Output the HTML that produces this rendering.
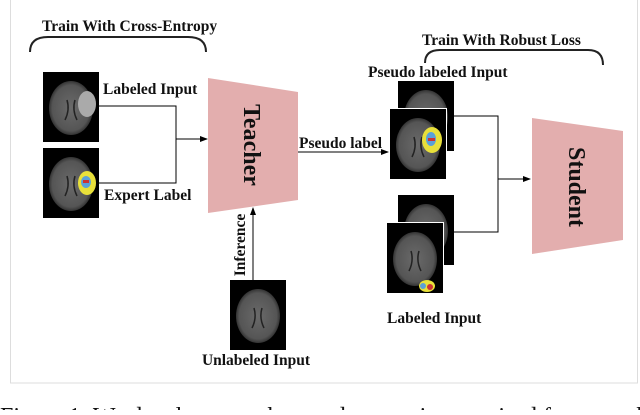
<!DOCTYPE html>
<html><head><meta charset="utf-8"><style>
body{margin:0;background:#fff;width:640px;height:410px;overflow:hidden}
svg text{font-family:"Liberation Serif",serif;font-weight:bold;fill:#111}
</style></head><body>
<svg width="640" height="410" viewBox="0 0 640 410" xmlns="http://www.w3.org/2000/svg">
<defs>
<radialGradient id="br" cx="50%" cy="50%" r="50%"><stop offset="0" stop-color="#6a6a6a"/><stop offset="0.85" stop-color="#555"/><stop offset="1" stop-color="#333"/></radialGradient>
<marker id="ar" markerWidth="8" markerHeight="8" refX="7" refY="4" orient="auto" markerUnits="userSpaceOnUse"><path d="M0,1 L8,4 L0,7 Z" fill="#000"/></marker>
<g id="brain"><rect width="56" height="70" fill="#000"/><ellipse cx="28" cy="36" rx="22" ry="27" fill="url(#br)"/><path d="M24 28 Q27 38 22 48 M32 28 Q29 38 34 48" stroke="#222" stroke-width="1.5" fill="none"/></g>
</defs>
<rect x="10.5" y="-2" width="627" height="385" fill="none" stroke="#ddd"/>
<path d="M30 52 Q30 37 48 37 L188 37 Q206 37 206 52" fill="none" stroke="#222" stroke-width="2"/>
<text x="42" y="31" font-size="15.5">Train With Cross-Entropy</text>
<use href="#brain" x="43" y="72"/>
<ellipse cx="87" cy="104" rx="9" ry="13" fill="#aaa"/>
<use href="#brain" x="43" y="148"/>
<ellipse cx="87" cy="183" rx="9" ry="12" fill="#e8e03a"/><ellipse cx="86" cy="182" rx="5" ry="6" fill="#5aa0d8"/><rect x="83" y="180" width="6" height="3" fill="#c33"/>
<text x="103" y="94" font-size="15.5">Labeled Input</text>
<text x="104" y="200" font-size="15.5">Expert Label</text>
<path d="M99 106 H176 V183 H99" fill="none" stroke="#000" stroke-width="1"/>
<line x1="176" y1="139" x2="207" y2="139" stroke="#000" marker-end="url(#ar)"/>
<polygon points="208,78 298,92 298,200 208,213" fill="#e3aeae"/>
<text transform="translate(244,145) rotate(90)" font-size="24" text-anchor="middle">Teacher</text>
<line x1="298" y1="152" x2="388" y2="152" stroke="#000" marker-end="url(#ar)"/>
<text x="299" y="148" font-size="15.5">Pseudo label</text>
<line x1="253" y1="280" x2="253" y2="208" stroke="#000" marker-end="url(#ar)"/>
<text transform="translate(245,245) rotate(-90)" font-size="15.5" text-anchor="middle">Inference</text>
<use href="#brain" x="230" y="280"/>
<text x="256" y="365" font-size="15.5" text-anchor="middle">Unlabeled Input</text>
<path d="M425 63 Q425 50 440 50 L588 50 Q603 50 603 65" fill="none" stroke="#222" stroke-width="2"/>
<text x="422" y="45" font-size="15.5">Train With Robust Loss</text>
<text x="368" y="77" font-size="15.5">Pseudo labeled Input</text>
<use href="#brain" x="398" y="81"/>
<rect x="389.5" y="108.5" width="57" height="72" fill="none" stroke="#fff"/>
<use href="#brain" x="390" y="109"/>
<ellipse cx="432" cy="140" rx="10" ry="13" fill="#e8e03a"/><ellipse cx="431" cy="139" rx="5" ry="7" fill="#5aa0d8"/><rect x="428" y="138" width="7" height="3" fill="#c33"/>
<path d="M454 116 H498 V232 H454" fill="none" stroke="#000"/>
<line x1="498" y1="179" x2="530" y2="179" stroke="#000" marker-end="url(#ar)"/>
<use href="#brain" x="398" y="195"/>
<rect x="386.5" y="222.5" width="57" height="74" fill="none" stroke="#fff"/>
<use href="#brain" x="387" y="223"/>
<ellipse cx="427" cy="286" rx="8" ry="6" fill="#e8e03a"/><circle cx="423" cy="286" r="3" fill="#5aa0d8"/><circle cx="430" cy="287" r="3" fill="#c33"/>
<text x="387" y="323" font-size="15.5">Labeled Input</text>
<polygon points="532,118 623,131 623,240 532,254" fill="#e3aeae"/>
<text transform="translate(569,187) rotate(90)" font-size="24" text-anchor="middle">Student</text>
<text x="0" y="424" font-size="24" style="font-weight:normal">Figure 1: We develop a teacher-student semi-supervised framework</text>
</svg>
</body></html>
